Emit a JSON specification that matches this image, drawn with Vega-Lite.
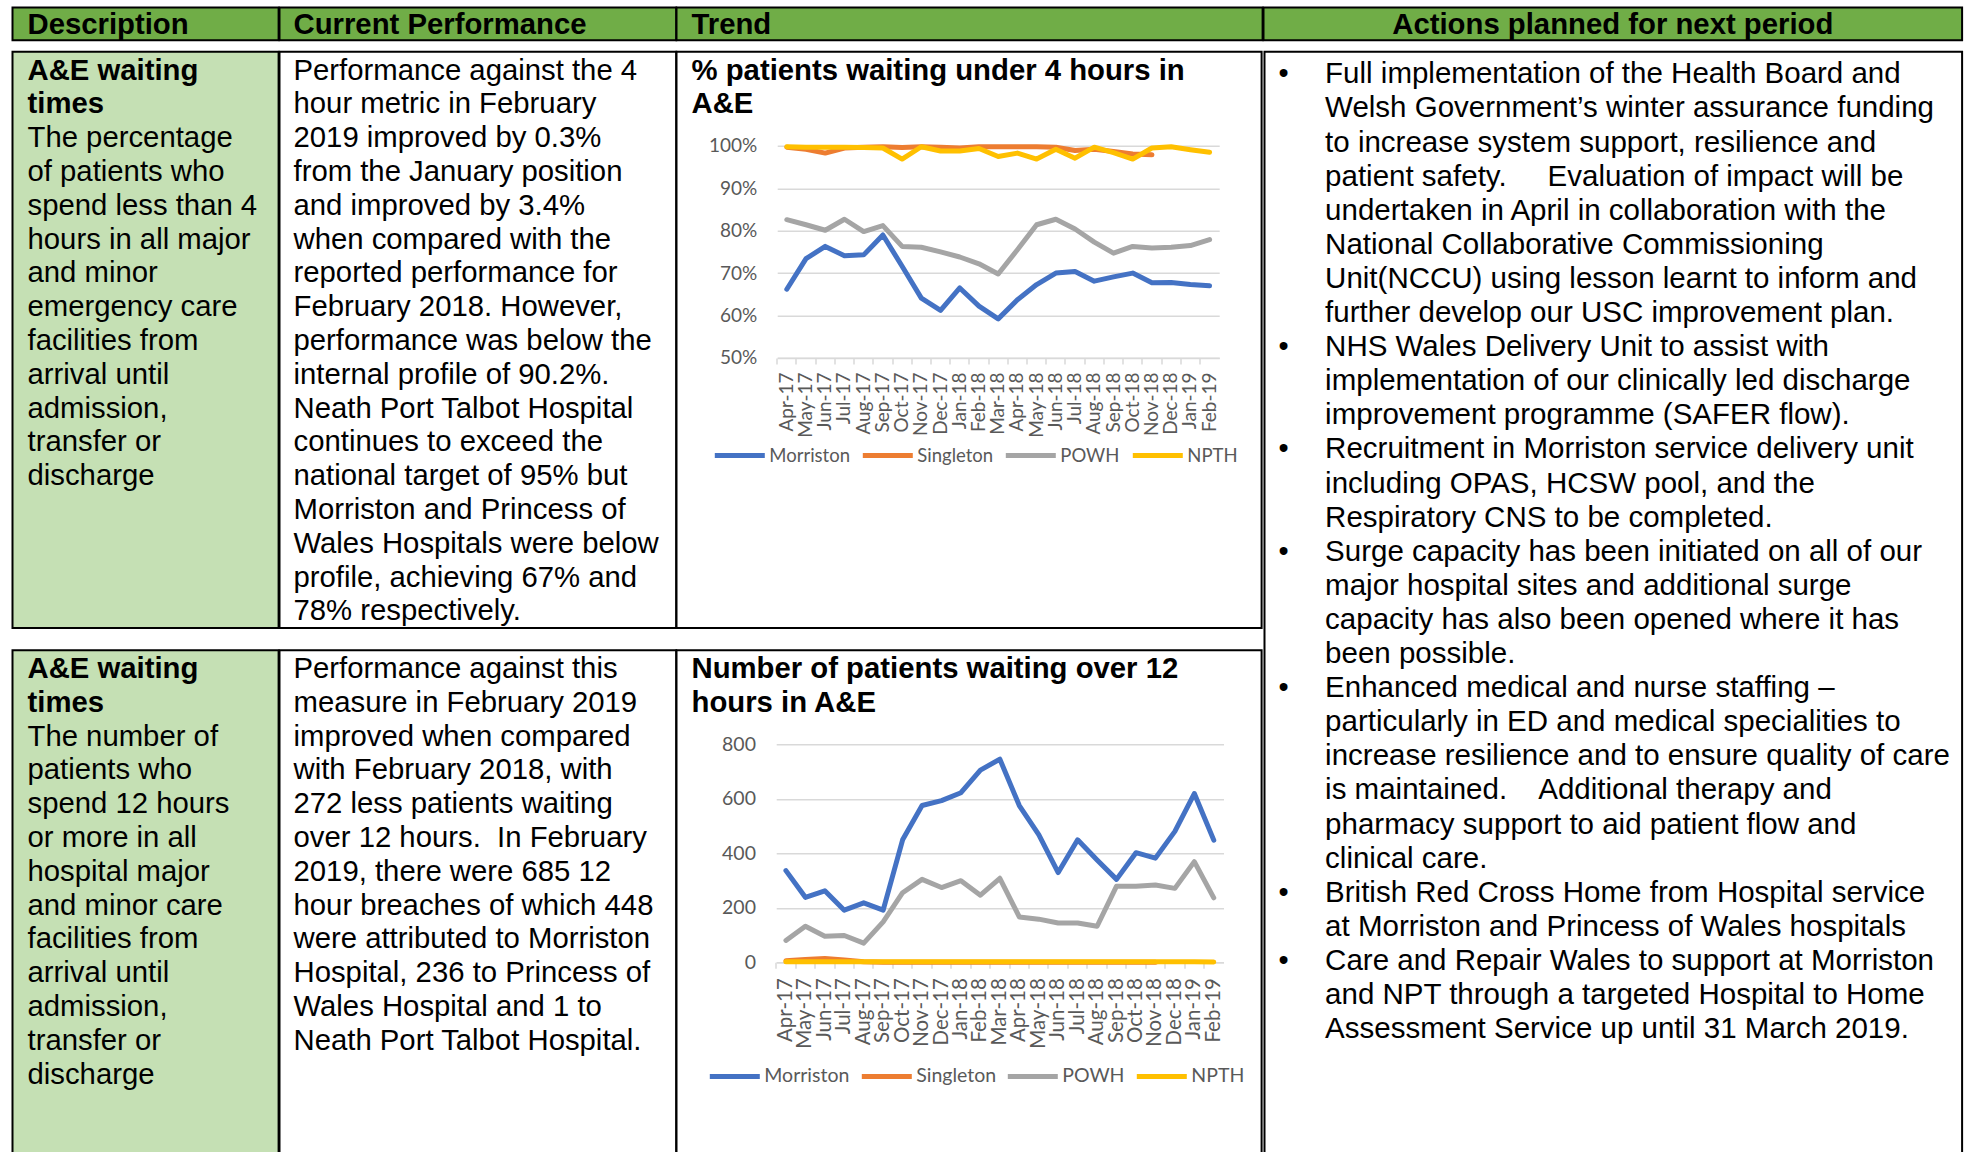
{
  "$schema": "https://vega.github.io/schema/vega-lite/v6.json",
  "background": "white",
  "padding": {"left": 11.5, "top": 6.5, "right": 0, "bottom": -8},
  "spacing": 9.3,
  "resolve": {"scale": {"x": "independent", "y": "independent", "color": "independent"}, "legend": {"color": "independent"}},
  "datasets": {
    "hdr": [
      {"col": 1, "text": "Description"},
      {"col": 2, "text": "Current Performance"},
      {"col": 3, "text": "Trend"},
      {"col": 4, "text": "Actions planned for next period"}
    ],
    "desc1": [
      {"line": 1, "text": "A&E waiting", "bold": true},
      {"line": 2, "text": "times", "bold": true},
      {"line": 3, "text": "The percentage", "bold": false},
      {"line": 4, "text": "of patients who", "bold": false},
      {"line": 5, "text": "spend less than 4", "bold": false},
      {"line": 6, "text": "hours in all major", "bold": false},
      {"line": 7, "text": "and minor", "bold": false},
      {"line": 8, "text": "emergency care", "bold": false},
      {"line": 9, "text": "facilities from", "bold": false},
      {"line": 10, "text": "arrival until", "bold": false},
      {"line": 11, "text": "admission,", "bold": false},
      {"line": 12, "text": "transfer or", "bold": false},
      {"line": 13, "text": "discharge", "bold": false}
    ],
    "desc2": [
      {"line": 1, "text": "A&E waiting", "bold": true},
      {"line": 2, "text": "times", "bold": true},
      {"line": 3, "text": "The number of", "bold": false},
      {"line": 4, "text": "patients who", "bold": false},
      {"line": 5, "text": "spend 12 hours", "bold": false},
      {"line": 6, "text": "or more in all", "bold": false},
      {"line": 7, "text": "hospital major", "bold": false},
      {"line": 8, "text": "and minor care", "bold": false},
      {"line": 9, "text": "facilities from", "bold": false},
      {"line": 10, "text": "arrival until", "bold": false},
      {"line": 11, "text": "admission,", "bold": false},
      {"line": 12, "text": "transfer or", "bold": false},
      {"line": 13, "text": "discharge", "bold": false}
    ],
    "perf1": [
      {"line": 1, "text": "Performance against the 4"},
      {"line": 2, "text": "hour metric in February"},
      {"line": 3, "text": "2019 improved by 0.3%"},
      {"line": 4, "text": "from the January position"},
      {"line": 5, "text": "and improved by 3.4%"},
      {"line": 6, "text": "when compared with the"},
      {"line": 7, "text": "reported performance for"},
      {"line": 8, "text": "February 2018. However,"},
      {"line": 9, "text": "performance was below the"},
      {"line": 10, "text": "internal profile of 90.2%."},
      {"line": 11, "text": "Neath Port Talbot Hospital"},
      {"line": 12, "text": "continues to exceed the"},
      {"line": 13, "text": "national target of 95% but"},
      {"line": 14, "text": "Morriston and Princess of"},
      {"line": 15, "text": "Wales Hospitals were below"},
      {"line": 16, "text": "profile, achieving 67% and"},
      {"line": 17, "text": "78% respectively."}
    ],
    "perf2": [
      {"line": 1, "text": "Performance against this"},
      {"line": 2, "text": "measure in February 2019"},
      {"line": 3, "text": "improved when compared"},
      {"line": 4, "text": "with February 2018, with"},
      {"line": 5, "text": "272 less patients waiting"},
      {"line": 6, "text": "over 12 hours.\u00a0 In February"},
      {"line": 7, "text": "2019, there were 685 12"},
      {"line": 8, "text": "hour breaches of which 448"},
      {"line": 9, "text": "were attributed to Morriston"},
      {"line": 10, "text": "Hospital, 236 to Princess of"},
      {"line": 11, "text": "Wales Hospital and 1 to"},
      {"line": 12, "text": "Neath Port Talbot Hospital."}
    ],
    "t1": [
      {"line": 1, "text": "% patients waiting under 4 hours in"},
      {"line": 2, "text": "A&E"}
    ],
    "t2": [
      {"line": 1, "text": "Number of patients waiting over 12"},
      {"line": 2, "text": "hours in A&E"}
    ],
    "act": [
      {"line": 1, "bullet": "•", "text": "Full implementation of the Health Board and"},
      {"line": 2, "bullet": "", "text": "Welsh Government’s winter assurance funding"},
      {"line": 3, "bullet": "", "text": "to increase system support, resilience and"},
      {"line": 4, "bullet": "", "text": "patient safety.\u00a0\u00a0\u00a0\u00a0 Evaluation of impact will be"},
      {"line": 5, "bullet": "", "text": "undertaken in April in collaboration with the"},
      {"line": 6, "bullet": "", "text": "National Collaborative Commissioning"},
      {"line": 7, "bullet": "", "text": "Unit(NCCU) using lesson learnt to inform and"},
      {"line": 8, "bullet": "", "text": "further develop our USC improvement plan."},
      {"line": 9, "bullet": "•", "text": "NHS Wales Delivery Unit to assist with"},
      {"line": 10, "bullet": "", "text": "implementation of our clinically led discharge"},
      {"line": 11, "bullet": "", "text": "improvement programme (SAFER flow)."},
      {"line": 12, "bullet": "•", "text": "Recruitment in Morriston service delivery unit"},
      {"line": 13, "bullet": "", "text": "including OPAS, HCSW pool, and the"},
      {"line": 14, "bullet": "", "text": "Respiratory CNS to be completed."},
      {"line": 15, "bullet": "•", "text": "Surge capacity has been initiated on all of our"},
      {"line": 16, "bullet": "", "text": "major hospital sites and additional surge"},
      {"line": 17, "bullet": "", "text": "capacity has also been opened where it has"},
      {"line": 18, "bullet": "", "text": "been possible."},
      {"line": 19, "bullet": "•", "text": "Enhanced medical and nurse staffing –"},
      {"line": 20, "bullet": "", "text": "particularly in ED and medical specialities to"},
      {"line": 21, "bullet": "", "text": "increase resilience and to ensure quality of care"},
      {"line": 22, "bullet": "", "text": "is maintained.\u00a0\u00a0\u00a0 Additional therapy and"},
      {"line": 23, "bullet": "", "text": "pharmacy support to aid patient flow and"},
      {"line": 24, "bullet": "", "text": "clinical care."},
      {"line": 25, "bullet": "•", "text": "British Red Cross Home from Hospital service"},
      {"line": 26, "bullet": "", "text": "at Morriston and Princess of Wales hospitals"},
      {"line": 27, "bullet": "•", "text": "Care and Repair Wales to support at Morriston"},
      {"line": 28, "bullet": "", "text": "and NPT through a targeted Hospital to Home"},
      {"line": 29, "bullet": "", "text": "Assessment Service up until 31 March 2019."}
    ],
    "pct": [
      {"month": "Apr-17", "site": "Morriston", "value": 0.662},
      {"month": "May-17", "site": "Morriston", "value": 0.734},
      {"month": "Jun-17", "site": "Morriston", "value": 0.763},
      {"month": "Jul-17", "site": "Morriston", "value": 0.741},
      {"month": "Aug-17", "site": "Morriston", "value": 0.743},
      {"month": "Sep-17", "site": "Morriston", "value": 0.790},
      {"month": "Oct-17", "site": "Morriston", "value": 0.716},
      {"month": "Nov-17", "site": "Morriston", "value": 0.641},
      {"month": "Dec-17", "site": "Morriston", "value": 0.612},
      {"month": "Jan-18", "site": "Morriston", "value": 0.665},
      {"month": "Feb-18", "site": "Morriston", "value": 0.622},
      {"month": "Mar-18", "site": "Morriston", "value": 0.592},
      {"month": "Apr-18", "site": "Morriston", "value": 0.637},
      {"month": "May-18", "site": "Morriston", "value": 0.673},
      {"month": "Jun-18", "site": "Morriston", "value": 0.700},
      {"month": "Jul-18", "site": "Morriston", "value": 0.704},
      {"month": "Aug-18", "site": "Morriston", "value": 0.681},
      {"month": "Sep-18", "site": "Morriston", "value": 0.691},
      {"month": "Oct-18", "site": "Morriston", "value": 0.700},
      {"month": "Nov-18", "site": "Morriston", "value": 0.677},
      {"month": "Dec-18", "site": "Morriston", "value": 0.678},
      {"month": "Jan-19", "site": "Morriston", "value": 0.673},
      {"month": "Feb-19", "site": "Morriston", "value": 0.670},
      {"month": "Apr-17", "site": "Singleton", "value": 0.997},
      {"month": "May-17", "site": "Singleton", "value": 0.992},
      {"month": "Jun-17", "site": "Singleton", "value": 0.983},
      {"month": "Jul-17", "site": "Singleton", "value": 0.995},
      {"month": "Aug-17", "site": "Singleton", "value": 0.997},
      {"month": "Sep-17", "site": "Singleton", "value": 0.998},
      {"month": "Oct-17", "site": "Singleton", "value": 0.996},
      {"month": "Nov-17", "site": "Singleton", "value": 0.998},
      {"month": "Dec-17", "site": "Singleton", "value": 0.997},
      {"month": "Jan-18", "site": "Singleton", "value": 0.995},
      {"month": "Feb-18", "site": "Singleton", "value": 0.998},
      {"month": "Mar-18", "site": "Singleton", "value": 0.998},
      {"month": "Apr-18", "site": "Singleton", "value": 0.998},
      {"month": "May-18", "site": "Singleton", "value": 0.998},
      {"month": "Jun-18", "site": "Singleton", "value": 0.997},
      {"month": "Jul-18", "site": "Singleton", "value": 0.989},
      {"month": "Aug-18", "site": "Singleton", "value": 0.992},
      {"month": "Sep-18", "site": "Singleton", "value": 0.987},
      {"month": "Oct-18", "site": "Singleton", "value": 0.981},
      {"month": "Nov-18", "site": "Singleton", "value": 0.979},
      {"month": "Apr-17", "site": "POWH", "value": 0.826},
      {"month": "May-17", "site": "POWH", "value": 0.814},
      {"month": "Jun-17", "site": "POWH", "value": 0.801},
      {"month": "Jul-17", "site": "POWH", "value": 0.827},
      {"month": "Aug-17", "site": "POWH", "value": 0.798},
      {"month": "Sep-17", "site": "POWH", "value": 0.812},
      {"month": "Oct-17", "site": "POWH", "value": 0.763},
      {"month": "Nov-17", "site": "POWH", "value": 0.761},
      {"month": "Dec-17", "site": "POWH", "value": 0.750},
      {"month": "Jan-18", "site": "POWH", "value": 0.738},
      {"month": "Feb-18", "site": "POWH", "value": 0.722},
      {"month": "Mar-18", "site": "POWH", "value": 0.698},
      {"month": "Apr-18", "site": "POWH", "value": 0.755},
      {"month": "May-18", "site": "POWH", "value": 0.814},
      {"month": "Jun-18", "site": "POWH", "value": 0.827},
      {"month": "Jul-18", "site": "POWH", "value": 0.804},
      {"month": "Aug-18", "site": "POWH", "value": 0.773},
      {"month": "Sep-18", "site": "POWH", "value": 0.747},
      {"month": "Oct-18", "site": "POWH", "value": 0.763},
      {"month": "Nov-18", "site": "POWH", "value": 0.759},
      {"month": "Dec-18", "site": "POWH", "value": 0.761},
      {"month": "Jan-19", "site": "POWH", "value": 0.765},
      {"month": "Feb-19", "site": "POWH", "value": 0.779},
      {"month": "Apr-17", "site": "NPTH", "value": 0.998},
      {"month": "May-17", "site": "NPTH", "value": 0.997},
      {"month": "Jun-17", "site": "NPTH", "value": 0.997},
      {"month": "Jul-17", "site": "NPTH", "value": 0.997},
      {"month": "Aug-17", "site": "NPTH", "value": 0.996},
      {"month": "Sep-17", "site": "NPTH", "value": 0.995},
      {"month": "Oct-17", "site": "NPTH", "value": 0.969},
      {"month": "Nov-17", "site": "NPTH", "value": 0.998},
      {"month": "Dec-17", "site": "NPTH", "value": 0.988},
      {"month": "Jan-18", "site": "NPTH", "value": 0.988},
      {"month": "Feb-18", "site": "NPTH", "value": 0.994},
      {"month": "Mar-18", "site": "NPTH", "value": 0.975},
      {"month": "Apr-18", "site": "NPTH", "value": 0.983},
      {"month": "May-18", "site": "NPTH", "value": 0.969},
      {"month": "Jun-18", "site": "NPTH", "value": 0.992},
      {"month": "Jul-18", "site": "NPTH", "value": 0.971},
      {"month": "Aug-18", "site": "NPTH", "value": 0.997},
      {"month": "Sep-18", "site": "NPTH", "value": 0.984},
      {"month": "Oct-18", "site": "NPTH", "value": 0.969},
      {"month": "Nov-18", "site": "NPTH", "value": 0.995},
      {"month": "Dec-18", "site": "NPTH", "value": 0.998},
      {"month": "Jan-19", "site": "NPTH", "value": 0.991},
      {"month": "Feb-19", "site": "NPTH", "value": 0.985}
    ],
    "n12": [
      {"month": "Apr-17", "site": "Morriston", "value": 336},
      {"month": "May-17", "site": "Morriston", "value": 238},
      {"month": "Jun-17", "site": "Morriston", "value": 262},
      {"month": "Jul-17", "site": "Morriston", "value": 191},
      {"month": "Aug-17", "site": "Morriston", "value": 218},
      {"month": "Sep-17", "site": "Morriston", "value": 191},
      {"month": "Oct-17", "site": "Morriston", "value": 449},
      {"month": "Nov-17", "site": "Morriston", "value": 575},
      {"month": "Dec-17", "site": "Morriston", "value": 593},
      {"month": "Jan-18", "site": "Morriston", "value": 622},
      {"month": "Feb-18", "site": "Morriston", "value": 705},
      {"month": "Mar-18", "site": "Morriston", "value": 745},
      {"month": "Apr-18", "site": "Morriston", "value": 575},
      {"month": "May-18", "site": "Morriston", "value": 468},
      {"month": "Jun-18", "site": "Morriston", "value": 329},
      {"month": "Jul-18", "site": "Morriston", "value": 449},
      {"month": "Aug-18", "site": "Morriston", "value": 375},
      {"month": "Sep-18", "site": "Morriston", "value": 304},
      {"month": "Oct-18", "site": "Morriston", "value": 402},
      {"month": "Nov-18", "site": "Morriston", "value": 382},
      {"month": "Dec-18", "site": "Morriston", "value": 480},
      {"month": "Jan-19", "site": "Morriston", "value": 619},
      {"month": "Feb-19", "site": "Morriston", "value": 448},
      {"month": "Apr-17", "site": "Singleton", "value": 5},
      {"month": "May-17", "site": "Singleton", "value": 10},
      {"month": "Jun-17", "site": "Singleton", "value": 14},
      {"month": "Jul-17", "site": "Singleton", "value": 8},
      {"month": "Aug-17", "site": "Singleton", "value": 2},
      {"month": "Sep-17", "site": "Singleton", "value": 0},
      {"month": "Oct-17", "site": "Singleton", "value": 0},
      {"month": "Nov-17", "site": "Singleton", "value": 0},
      {"month": "Dec-17", "site": "Singleton", "value": 0},
      {"month": "Jan-18", "site": "Singleton", "value": 0},
      {"month": "Feb-18", "site": "Singleton", "value": 0},
      {"month": "Mar-18", "site": "Singleton", "value": 0},
      {"month": "Apr-18", "site": "Singleton", "value": 0},
      {"month": "May-18", "site": "Singleton", "value": 0},
      {"month": "Jun-18", "site": "Singleton", "value": 0},
      {"month": "Jul-18", "site": "Singleton", "value": 0},
      {"month": "Aug-18", "site": "Singleton", "value": 0},
      {"month": "Sep-18", "site": "Singleton", "value": 0},
      {"month": "Oct-18", "site": "Singleton", "value": 0},
      {"month": "Nov-18", "site": "Singleton", "value": 0},
      {"month": "Apr-17", "site": "POWH", "value": 80},
      {"month": "May-17", "site": "POWH", "value": 132},
      {"month": "Jun-17", "site": "POWH", "value": 95},
      {"month": "Jul-17", "site": "POWH", "value": 98},
      {"month": "Aug-17", "site": "POWH", "value": 70},
      {"month": "Sep-17", "site": "POWH", "value": 148},
      {"month": "Oct-17", "site": "POWH", "value": 255},
      {"month": "Nov-17", "site": "POWH", "value": 304},
      {"month": "Dec-17", "site": "POWH", "value": 274},
      {"month": "Jan-18", "site": "POWH", "value": 299},
      {"month": "Feb-18", "site": "POWH", "value": 246},
      {"month": "Mar-18", "site": "POWH", "value": 308},
      {"month": "Apr-18", "site": "POWH", "value": 166},
      {"month": "May-18", "site": "POWH", "value": 158},
      {"month": "Jun-18", "site": "POWH", "value": 144},
      {"month": "Jul-18", "site": "POWH", "value": 144},
      {"month": "Aug-18", "site": "POWH", "value": 132},
      {"month": "Sep-18", "site": "POWH", "value": 279},
      {"month": "Oct-18", "site": "POWH", "value": 279},
      {"month": "Nov-18", "site": "POWH", "value": 283},
      {"month": "Dec-18", "site": "POWH", "value": 271},
      {"month": "Jan-19", "site": "POWH", "value": 369},
      {"month": "Feb-19", "site": "POWH", "value": 236},
      {"month": "Apr-17", "site": "NPTH", "value": 2},
      {"month": "May-17", "site": "NPTH", "value": 2},
      {"month": "Jun-17", "site": "NPTH", "value": 2},
      {"month": "Jul-17", "site": "NPTH", "value": 2},
      {"month": "Aug-17", "site": "NPTH", "value": 2},
      {"month": "Sep-17", "site": "NPTH", "value": 2},
      {"month": "Oct-17", "site": "NPTH", "value": 2},
      {"month": "Nov-17", "site": "NPTH", "value": 2},
      {"month": "Dec-17", "site": "NPTH", "value": 2},
      {"month": "Jan-18", "site": "NPTH", "value": 2},
      {"month": "Feb-18", "site": "NPTH", "value": 2},
      {"month": "Mar-18", "site": "NPTH", "value": 2},
      {"month": "Apr-18", "site": "NPTH", "value": 2},
      {"month": "May-18", "site": "NPTH", "value": 2},
      {"month": "Jun-18", "site": "NPTH", "value": 2},
      {"month": "Jul-18", "site": "NPTH", "value": 2},
      {"month": "Aug-18", "site": "NPTH", "value": 2},
      {"month": "Sep-18", "site": "NPTH", "value": 2},
      {"month": "Oct-18", "site": "NPTH", "value": 2},
      {"month": "Nov-18", "site": "NPTH", "value": 2},
      {"month": "Dec-18", "site": "NPTH", "value": 2},
      {"month": "Jan-19", "site": "NPTH", "value": 2},
      {"month": "Feb-19", "site": "NPTH", "value": 1}
    ]
  },
  "vconcat": [
    {
      "bounds": "flush",
      "spacing": 0,
      "resolve": {"scale": {"x": "independent", "y": "independent"}},
      "hconcat": [
        {"width": 266.1, "height": 32.7, "view": {"fill": "#70AD47", "stroke": "#000000", "strokeWidth": 2},
         "data": {"name": "hdr"}, "transform": [{"filter": "datum.col == 1"}],
         "mark": {"type": "text", "font": "Liberation Sans", "fontSize": 29.3, "fontWeight": "bold", "align": "left", "baseline": "middle", "color": "#000000", "dy": 1},
         "encoding": {"x": {"value": 15}, "text": {"field": "text"}}},
        {"width": 396.7, "height": 32.7, "view": {"fill": "#70AD47", "stroke": "#000000", "strokeWidth": 2},
         "data": {"name": "hdr"}, "transform": [{"filter": "datum.col == 2"}],
         "mark": {"type": "text", "font": "Liberation Sans", "fontSize": 29.3, "fontWeight": "bold", "align": "left", "baseline": "middle", "color": "#000000", "dy": 1},
         "encoding": {"x": {"value": 14}, "text": {"field": "text"}}},
        {"width": 586.1, "height": 32.7, "view": {"fill": "#70AD47", "stroke": "#000000", "strokeWidth": 2},
         "data": {"name": "hdr"}, "transform": [{"filter": "datum.col == 3"}],
         "mark": {"type": "text", "font": "Liberation Sans", "fontSize": 29.3, "fontWeight": "bold", "align": "left", "baseline": "middle", "color": "#000000", "dy": 1},
         "encoding": {"x": {"value": 15}, "text": {"field": "text"}}},
        {"width": 698.6, "height": 32.7, "view": {"fill": "#70AD47", "stroke": "#000000", "strokeWidth": 2},
         "data": {"name": "hdr"}, "transform": [{"filter": "datum.col == 4"}],
         "mark": {"type": "text", "font": "Liberation Sans", "fontSize": 29.3, "fontWeight": "bold", "align": "center", "baseline": "middle", "color": "#000000", "dy": 1},
         "encoding": {"text": {"field": "text"}}}
      ]
    },
    {
      "spacing": 0,
      "resolve": {"scale": {"x": "independent", "y": "independent", "color": "independent"}, "legend": {"color": "independent"}},
      "hconcat": [
        {
          "spacing": 19.4,
          "resolve": {"scale": {"x": "independent", "y": "independent", "color": "independent"}, "legend": {"color": "independent"}},
          "vconcat": [
            {
              "bounds": "flush",
              "spacing": 0,
              "resolve": {"scale": {"x": "independent", "y": "independent"}},
              "hconcat": [
                {"width": 266.1, "height": 576.1, "view": {"fill": "#C5E0B4", "stroke": "#000000", "strokeWidth": 2},
                 "data": {"name": "desc1"},
                 "encoding": {
                   "x": {"value": 15},
                   "y": {"field": "line", "type": "quantitative", "scale": {"domain": [0, 30], "range": [-15, 999], "nice": false, "zero": false}, "axis": null},
                   "text": {"field": "text"}
                 },
                 "layer": [
                   {"transform": [{"filter": "datum.bold"}], "mark": {"type": "text", "font": "Liberation Sans", "fontSize": 29.3, "fontWeight": "bold", "align": "left", "baseline": "middle", "color": "#000000"}},
                   {"transform": [{"filter": "!datum.bold"}], "mark": {"type": "text", "font": "Liberation Sans", "fontSize": 29.3, "align": "left", "baseline": "middle", "color": "#000000"}}
                 ]},
                {"width": 396.7, "height": 576.1, "view": {"fill": "white", "stroke": "#000000", "strokeWidth": 2},
                 "data": {"name": "perf1"},
                 "mark": {"type": "text", "font": "Liberation Sans", "fontSize": 29.3, "align": "left", "baseline": "middle", "color": "#000000"},
                 "encoding": {
                   "x": {"value": 14},
                   "y": {"field": "line", "type": "quantitative", "scale": {"domain": [0, 30], "range": [-15, 999], "nice": false, "zero": false}, "axis": null},
                   "text": {"field": "text"}
                 }},
                {"width": 585.1, "height": 576.1, "view": {"fill": "white", "stroke": "#000000", "strokeWidth": 2},
                 "resolve": {"scale": {"y": "independent"}},
                 "layer": [
                   {"data": {"name": "t1"},
                    "mark": {"type": "text", "font": "Liberation Sans", "fontSize": 29.3, "fontWeight": "bold", "align": "left", "baseline": "middle", "color": "#000000"},
                    "encoding": {
                      "x": {"value": 15},
                      "y": {"field": "line", "type": "quantitative", "scale": {"domain": [0, 30], "range": [-15, 999], "nice": false, "zero": false}, "axis": null},
                      "text": {"field": "text"}
                    }},
                   {"data": {"name": "pct"},
                    "mark": {"type": "line", "strokeWidth": 5, "strokeJoin": "round", "strokeCap": "round"},
                    "encoding": {
                      "x": {"field": "month", "type": "ordinal", "bandPosition": 0.5,
                            "sort": ["Apr-17","May-17","Jun-17","Jul-17","Aug-17","Sep-17","Oct-17","Nov-17","Dec-17","Jan-18","Feb-18","Mar-18","Apr-18","May-18","Jun-18","Jul-18","Aug-18","Sep-18","Oct-18","Nov-18","Dec-18","Jan-19","Feb-19"],
                            "scale": {"type": "band", "range": [100.7, 542.7], "paddingInner": 0, "paddingOuter": 0},
                            "axis": {"orient": "bottom", "offset": -270, "title": null, "labelAngle": 270, "labelAlign": "right", "labelBaseline": "middle", "labelFont": "Lato", "labelFontSize": 19, "labelColor": "#595959", "labelPadding": 8, "labelOverlap": false, "labelBound": false, "domainColor": "#D9D9D9", "domainWidth": 1.5, "tickColor": "#D9D9D9", "tickSize": 6, "tickWidth": 1.5, "bandPosition": 0, "grid": false}},
                      "y": {"field": "value", "type": "quantitative",
                            "scale": {"domain": [0.5, 1], "range": [306.1, 94.1], "nice": false, "zero": false},
                            "axis": {"orient": "left", "offset": -100.7, "title": null, "values": [0.5, 0.6, 0.7, 0.8, 0.9, 1], "format": ".0%", "domain": false, "ticks": false, "labelPadding": 20.5, "labelFont": "Lato", "labelFontSize": 19, "labelColor": "#595959", "labelOverlap": false, "grid": true, "gridColor": "#D9D9D9", "gridWidth": 1.5}},
                      "color": {"field": "site", "type": "nominal", "sort": ["Morriston", "Singleton", "POWH", "NPTH"],
                                "scale": {"domain": ["Morriston", "Singleton", "POWH", "NPTH"], "range": ["#4472C4", "#ED7D31", "#A5A5A5", "#FFC000"]},
                                "legend": {"orient": "none", "legendX": 699.8, "legendY": 376, "direction": "horizontal", "title": null, "padding": 0, "symbolType": "stroke", "symbolSize": 2500, "symbolStrokeWidth": 5, "labelFont": "Lato", "labelFontSize": 18.5, "labelColor": "#595959", "labelOffset": 2, "columnPadding": 2}}
                    }}
                 ]}
              ]
            },
            {
              "bounds": "flush",
              "spacing": 0,
              "resolve": {"scale": {"x": "independent", "y": "independent"}},
              "hconcat": [
                {"width": 266.1, "height": 508.5, "view": {"fill": "#C5E0B4", "stroke": "#000000", "strokeWidth": 2},
                 "data": {"name": "desc2"},
                 "encoding": {
                   "x": {"value": 15},
                   "y": {"field": "line", "type": "quantitative", "scale": {"domain": [0, 30], "range": [-15, 999], "nice": false, "zero": false}, "axis": null},
                   "text": {"field": "text"}
                 },
                 "layer": [
                   {"transform": [{"filter": "datum.bold"}], "mark": {"type": "text", "font": "Liberation Sans", "fontSize": 29.3, "fontWeight": "bold", "align": "left", "baseline": "middle", "color": "#000000"}},
                   {"transform": [{"filter": "!datum.bold"}], "mark": {"type": "text", "font": "Liberation Sans", "fontSize": 29.3, "align": "left", "baseline": "middle", "color": "#000000"}}
                 ]},
                {"width": 396.7, "height": 508.5, "view": {"fill": "white", "stroke": "#000000", "strokeWidth": 2},
                 "data": {"name": "perf2"},
                 "mark": {"type": "text", "font": "Liberation Sans", "fontSize": 29.3, "align": "left", "baseline": "middle", "color": "#000000"},
                 "encoding": {
                   "x": {"value": 14},
                   "y": {"field": "line", "type": "quantitative", "scale": {"domain": [0, 30], "range": [-15, 999], "nice": false, "zero": false}, "axis": null},
                   "text": {"field": "text"}
                 }},
                {"width": 585.1, "height": 508.5, "view": {"fill": "white", "stroke": "#000000", "strokeWidth": 2},
                 "resolve": {"scale": {"y": "independent"}},
                 "layer": [
                   {"data": {"name": "t2"},
                    "mark": {"type": "text", "font": "Liberation Sans", "fontSize": 29.3, "fontWeight": "bold", "align": "left", "baseline": "middle", "color": "#000000"},
                    "encoding": {
                      "x": {"value": 15},
                      "y": {"field": "line", "type": "quantitative", "scale": {"domain": [0, 30], "range": [-15, 999], "nice": false, "zero": false}, "axis": null},
                      "text": {"field": "text"}
                    }},
                   {"data": {"name": "n12"},
                    "mark": {"type": "line", "strokeWidth": 5, "strokeJoin": "round", "strokeCap": "round"},
                    "encoding": {
                      "x": {"field": "month", "type": "ordinal", "bandPosition": 0.5,
                            "sort": ["Apr-17","May-17","Jun-17","Jul-17","Aug-17","Sep-17","Oct-17","Nov-17","Dec-17","Jan-18","Feb-18","Mar-18","Apr-18","May-18","Jun-18","Jul-18","Aug-18","Sep-18","Oct-18","Nov-18","Dec-18","Jan-19","Feb-19"],
                            "scale": {"type": "band", "range": [99.7, 547], "paddingInner": 0, "paddingOuter": 0},
                            "axis": {"orient": "bottom", "offset": -196.5, "title": null, "labelAngle": 270, "labelAlign": "right", "labelBaseline": "middle", "labelFont": "Lato", "labelFontSize": 20.5, "labelColor": "#595959", "labelPadding": 9.5, "labelOverlap": false, "labelBound": false, "domainColor": "#D9D9D9", "domainWidth": 1.5, "tickColor": "#D9D9D9", "tickSize": 6, "tickWidth": 1.5, "bandPosition": 0, "grid": false}},
                      "y": {"field": "value", "type": "quantitative",
                            "scale": {"domain": [0, 800], "range": [312, 94], "nice": false, "zero": false},
                            "axis": {"orient": "left", "offset": -99.7, "title": null, "values": [0, 200, 400, 600, 800], "format": "d", "domain": false, "ticks": false, "labelPadding": 20.7, "labelFont": "Lato", "labelFontSize": 19.5, "labelColor": "#595959", "labelOverlap": false, "grid": true, "gridColor": "#D9D9D9", "gridWidth": 1.5}},
                      "color": {"field": "site", "type": "nominal", "sort": ["Morriston", "Singleton", "POWH", "NPTH"],
                                "scale": {"domain": ["Morriston", "Singleton", "POWH", "NPTH"], "range": ["#4472C4", "#ED7D31", "#A5A5A5", "#FFC000"]},
                                "legend": {"orient": "none", "legendX": 694.8, "legendY": 398.5, "direction": "horizontal", "title": null, "padding": 0, "symbolType": "stroke", "symbolSize": 2500, "symbolStrokeWidth": 5, "labelFont": "Lato", "labelFontSize": 19.5, "labelColor": "#595959", "labelOffset": 2, "columnPadding": 1}}
                    }}
                 ]}
              ]
            }
          ]
        },
        {"width": 697.6, "height": 1106, "view": {"fill": "white", "stroke": "#000000", "strokeWidth": 2},
         "data": {"name": "act"},
         "encoding": {
           "y": {"field": "line", "type": "quantitative", "scale": {"domain": [0, 30], "range": [-11.6, 1011.4], "nice": false, "zero": false}, "axis": null}
         },
         "layer": [
           {"mark": {"type": "text", "font": "Liberation Sans", "fontSize": 29, "align": "center", "baseline": "middle", "color": "#000000"},
            "encoding": {"x": {"value": 19}, "text": {"field": "bullet"}}},
           {"mark": {"type": "text", "font": "Liberation Sans", "fontSize": 29.5, "align": "left", "baseline": "middle", "color": "#000000"},
            "encoding": {"x": {"value": 60.6}, "text": {"field": "text"}}}
         ]}
      ]
    }
  ]
}
